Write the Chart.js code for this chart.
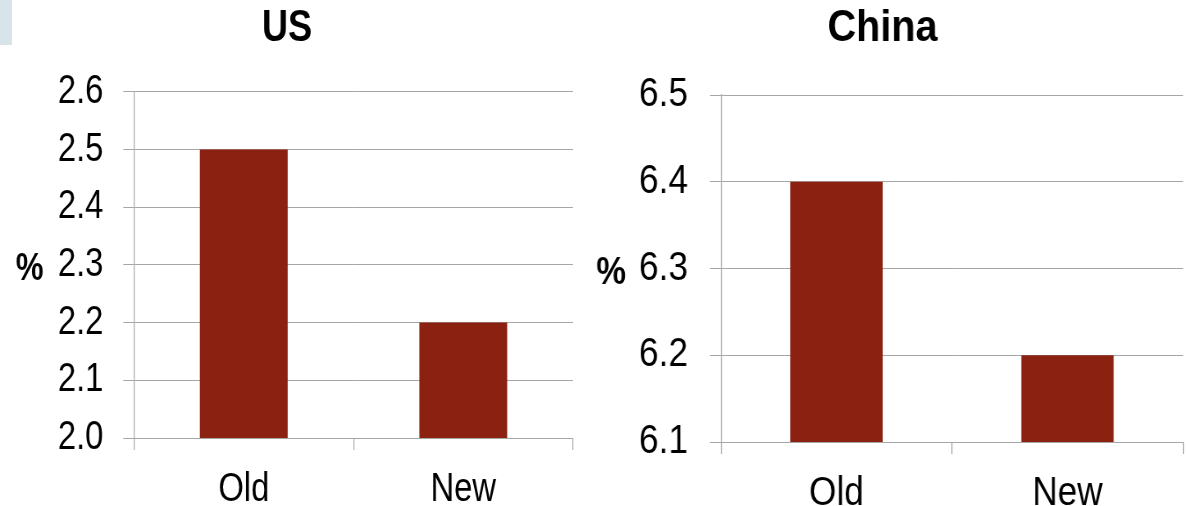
<!DOCTYPE html>
<html>
<head>
<meta charset="utf-8">
<script src="https://cdn.jsdelivr.net/npm/chart.js@4/dist/chart.umd.min.js"></script>
<style>
  html, body { margin: 0; padding: 0; background: #ffffff; }
  body { width: 1187px; height: 506px; position: relative; overflow: hidden; }
  .tab { position: absolute; left: 0; top: 0; width: 12px; height: 45px; background: #d9e3ea; }
  /* panels are laid out wide and condensed horizontally, like the narrow typeface of the slide */
  .panel { position: absolute; top: 0; height: 506px; transform-origin: 0 0; }
  .panel canvas { display: block; }
  #usBox { left: 0; width: 720px; transform: scaleX(0.82); }
  #cnBox { left: 580px; width: 690px; transform: scaleX(0.88); }
</style>
</head>
<body>
<div class="tab"></div>
<div class="panel" id="usBox"><canvas id="us" width="720" height="506"></canvas></div>
<div class="panel" id="cnBox"><canvas id="cn" width="690" height="506"></canvas></div>
<script>
// Growth forecasts, old vs new (%)
const categories = ['Old', 'New'];

const usTitle = 'US';
const usValues = [2.5, 2.2];
const usTicks = [2.0, 2.1, 2.2, 2.3, 2.4, 2.5, 2.6];

const cnTitle = 'China';
const cnValues = [6.4, 6.2];
const cnTicks = [6.1, 6.2, 6.3, 6.4, 6.5];

const unitLabel = '%';

const FONT = "'Liberation Sans', Arial, sans-serif";
const BAR = 'rgb(139, 33, 17)';
const GRID = '#a6a6a6';

// Draws the unit label upright, to the left of the value axis
const unitPlugin = {
  id: 'unitLabel',
  afterDraw(chart, args, opts) {
    const { ctx, chartArea } = chart;
    const y = chart.scales.y;
    ctx.save();
    ctx.font = 'bold 38px ' + FONT;
    ctx.fillStyle = '#000';
    ctx.textAlign = 'center';
    ctx.textBaseline = 'middle';
    ctx.fillText(opts.text, y.left + opts.dx, (chartArea.top + chartArea.bottom) / 2 + opts.dy);
    ctx.restore();
  }
};

function makeChart(id, cfg) {
  return new Chart(document.getElementById(id), {
    type: 'bar',
    data: {
      labels: categories,
      datasets: [{
        data: cfg.values,
        backgroundColor: BAR,
        borderWidth: 0,
        barPercentage: 0.4,
        categoryPercentage: 1.0
      }]
    },
    plugins: [unitPlugin],
    options: {
      responsive: false,
      animation: false,
      events: [],
      devicePixelRatio: 1,
      layout: { padding: cfg.padding },
      plugins: {
        legend: { display: false },
        tooltip: { enabled: false },
        title: {
          display: true,
          text: cfg.title,
          color: '#000',
          font: { family: FONT, size: cfg.titleSize, weight: 'bold', lineHeight: 1.2 },
          padding: { top: 2, bottom: cfg.titleGap }
        },
        unitLabel: { text: unitLabel, dx: cfg.unitDx, dy: 5 }
      },
      scales: {
        x: {
          offset: true,
          grid: {
            offset: true,
            drawOnChartArea: false,
            drawTicks: true,
            tickLength: 12,
            color: GRID,
            lineWidth: 1.2
          },
          border: { display: true, color: GRID, width: 1 },
          ticks: {
            color: '#000',
            font: { family: FONT, size: 40 },
            padding: 16
          },
          afterFit(scale) { scale.height = cfg.xHeight; }
        },
        y: {
          min: cfg.ticks[0],
          max: cfg.ticks[cfg.ticks.length - 1],
          afterBuildTicks(scale) {
            scale.ticks = cfg.ticks.map(v => ({ value: v }));
          },
          grid: {
            drawTicks: true,
            tickLength: cfg.tickLen,
            color: GRID,
            lineWidth: 1
          },
          border: { display: true, color: GRID, width: 1.2 },
          ticks: {
            color: '#000',
            font: { family: FONT, size: 40 },
            padding: cfg.tickPad,
            callback: v => Number(v).toFixed(1)
          },
          afterFit(scale) { scale.width = cfg.yWidth; }
        }
      }
    }
  });
}

makeChart('us', {
  title: usTitle,
  titleSize: 44,
  values: usValues,
  ticks: usTicks,
  padding: { left: 1.2, right: 21.2, top: 0, bottom: 0 },
  titleGap: 37,
  xHeight: 68,
  yWidth: 162.2,
  tickLen: 13,
  tickPad: 24.4,
  unitDx: 35
});

makeChart('cn', {
  title: cnTitle,
  titleSize: 45,
  values: cnValues,
  ticks: cnTicks,
  padding: { left: 2.3, right: 4.8, top: 0, bottom: 0 },
  titleGap: 39,
  xHeight: 64,
  yWidth: 157.9,
  tickLen: 12.5,
  tickPad: 25,
  unitDx: 33
});
</script>
</body>
</html>
